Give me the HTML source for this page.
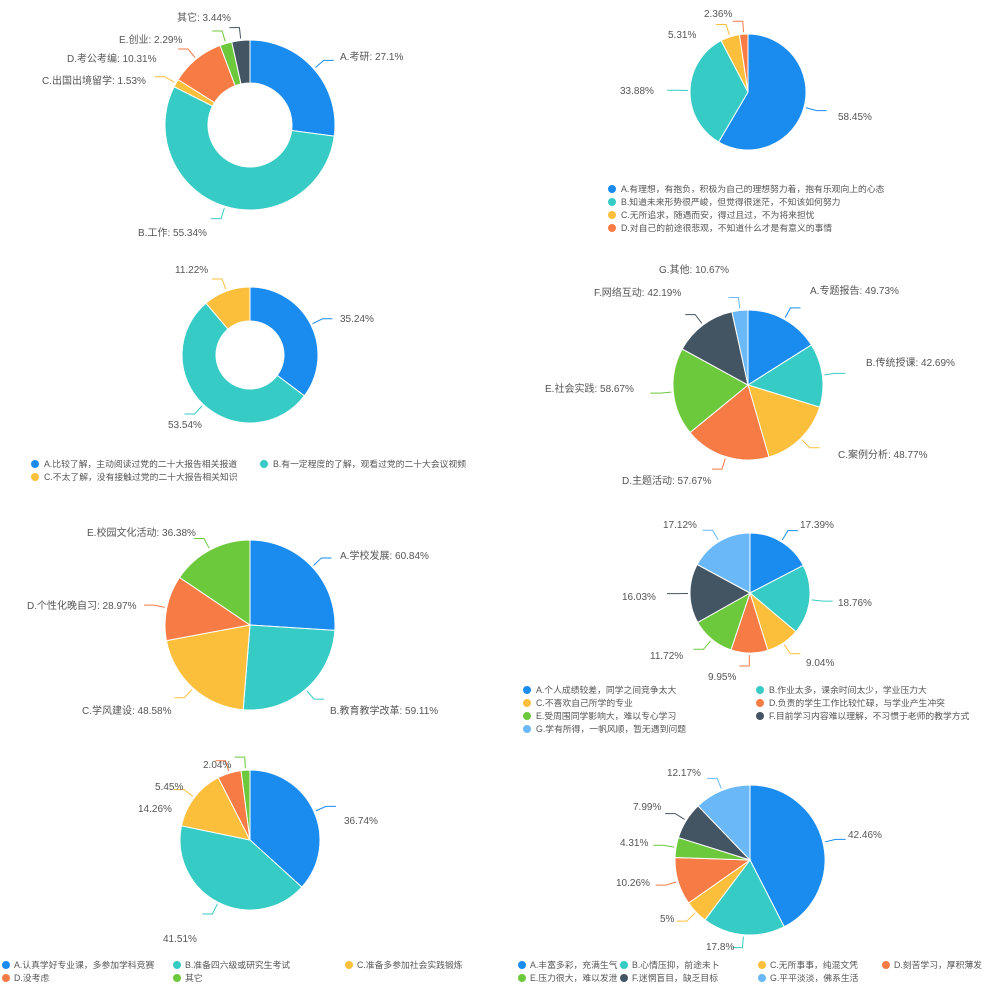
<!DOCTYPE html>
<html><head><meta charset="utf-8"><style>
body{margin:0;background:#fff;}
svg{display:block}
text{font-family:"Liberation Sans","Noto Sans CJK SC",sans-serif;font-size:10px;fill:#555;}
text.l{font-size:8.8px;}
</style></head><body>
<svg id="s" width="1000" height="1000" viewBox="0 0 1000 1000">
<g id="pies"></g>
<!-- chart1 -->
<text x="340" y="60">A.考研: 27.1%</text>
<text x="138" y="236">B.工作: 55.34%</text>
<text x="42" y="84">C.出国出境留学: 1.53%</text>
<text x="67" y="62">D.考公考编: 10.31%</text>
<text x="119" y="43">E.创业: 2.29%</text>
<text x="177" y="21">其它: 3.44%</text>
<!-- chart2 -->
<text x="704" y="17">2.36%</text>
<text x="668" y="38">5.31%</text>
<text x="620" y="94">33.88%</text>
<text x="838" y="120">58.45%</text>
<circle cx="612" cy="189" r="4" fill="#1a8cf0"/><text class="l" x="621" y="192">A.有理想，有抱负，积极为自己的理想努力着，抱有乐观向上的心态</text>
<circle cx="612" cy="202" r="4" fill="#36cbc4"/><text class="l" x="621" y="205">B.知道未来形势很严峻，但觉得很迷茫，不知该如何努力</text>
<circle cx="612" cy="215" r="4" fill="#fbbf3c"/><text class="l" x="621" y="218">C.无所追求，随遇而安，得过且过，不为将来担忧</text>
<circle cx="612" cy="228" r="4" fill="#f77b45"/><text class="l" x="621" y="231">D.对自己的前途很悲观，不知道什么才是有意义的事情</text>
<!-- chart3 -->
<text x="175" y="273">11.22%</text>
<text x="340" y="322">35.24%</text>
<text x="168" y="428">53.54%</text>
<circle cx="35" cy="464" r="4" fill="#1a8cf0"/><text class="l" x="44" y="467">A.比较了解，主动阅读过党的二十大报告相关报道</text>
<circle cx="264" cy="464" r="4" fill="#36cbc4"/><text class="l" x="273" y="467">B.有一定程度的了解，观看过党的二十大会议视频</text>
<circle cx="35" cy="477" r="4" fill="#fbbf3c"/><text class="l" x="44" y="480">C.不太了解，没有接触过党的二十大报告相关知识</text>
<!-- chart4 -->
<text x="659" y="273">G.其他: 10.67%</text>
<text x="594" y="296">F.网络互动: 42.19%</text>
<text x="810" y="294">A.专题报告: 49.73%</text>
<text x="866" y="366">B.传统授课: 42.69%</text>
<text x="545" y="392">E.社会实践: 58.67%</text>
<text x="838" y="458">C.案例分析: 48.77%</text>
<text x="622" y="484">D.主题活动: 57.67%</text>
<!-- chart5 -->
<text x="87" y="536">E.校园文化活动: 36.38%</text>
<text x="340" y="559">A.学校发展: 60.84%</text>
<text x="27" y="609">D.个性化晚自习: 28.97%</text>
<text x="82" y="714">C.学风建设: 48.58%</text>
<text x="330" y="714">B.教育教学改革: 59.11%</text>
<!-- chart6 -->
<text x="663" y="528">17.12%</text>
<text x="800" y="528">17.39%</text>
<text x="838" y="606">18.76%</text>
<text x="622" y="600">16.03%</text>
<text x="806" y="666">9.04%</text>
<text x="650" y="659">11.72%</text>
<text x="708" y="680">9.95%</text>
<circle cx="527" cy="690" r="4" fill="#1a8cf0"/><text class="l" x="536" y="693">A.个人成绩较差，同学之间竞争太大</text>
<circle cx="760" cy="690" r="4" fill="#36cbc4"/><text class="l" x="769" y="693">B.作业太多，课余时间太少，学业压力大</text>
<circle cx="527" cy="703" r="4" fill="#fbbf3c"/><text class="l" x="536" y="706">C.不喜欢自己所学的专业</text>
<circle cx="760" cy="703" r="4" fill="#f77b45"/><text class="l" x="769" y="706">D.负责的学生工作比较忙碌，与学业产生冲突</text>
<circle cx="527" cy="716" r="4" fill="#6cc93c"/><text class="l" x="536" y="719">E.受周围同学影响大，难以专心学习</text>
<circle cx="760" cy="716" r="4" fill="#435463"/><text class="l" x="769" y="719">F.目前学习内容难以理解，不习惯于老师的教学方式</text>
<circle cx="527" cy="729" r="4" fill="#6ab8f7"/><text class="l" x="536" y="732">G.学有所得，一帆风顺，暂无遇到问题</text>
<!-- chart7 -->
<text x="203" y="768">2.04%</text>
<text x="155" y="790">5.45%</text>
<text x="138" y="812">14.26%</text>
<text x="344" y="824">36.74%</text>
<text x="163" y="942">41.51%</text>
<circle cx="6" cy="965" r="4" fill="#1a8cf0"/><text class="l" x="14" y="968">A.认真学好专业课，多参加学科竞赛</text>
<circle cx="177" cy="965" r="4" fill="#36cbc4"/><text class="l" x="185" y="968">B.准备四六级或研究生考试</text>
<circle cx="349" cy="965" r="4" fill="#fbbf3c"/><text class="l" x="357" y="968">C.准备多参加社会实践锻炼</text>
<circle cx="6" cy="978" r="4" fill="#f77b45"/><text class="l" x="14" y="981">D.没考虑</text>
<circle cx="177" cy="978" r="4" fill="#6cc93c"/><text class="l" x="185" y="981">其它</text>
<!-- chart8 -->
<text x="667" y="776">12.17%</text>
<text x="633" y="810">7.99%</text>
<text x="620" y="846">4.31%</text>
<text x="616" y="886">10.26%</text>
<text x="660" y="922">5%</text>
<text x="706" y="950">17.8%</text>
<text x="848" y="838">42.46%</text>
<circle cx="522" cy="965" r="4" fill="#1a8cf0"/><text class="l" x="530" y="968">A.丰富多彩，充满生气</text>
<circle cx="624" cy="965" r="4" fill="#36cbc4"/><text class="l" x="632" y="968">B.心情压抑，前途未卜</text>
<circle cx="762" cy="965" r="4" fill="#fbbf3c"/><text class="l" x="770" y="968">C.无所事事，纯混文凭</text>
<circle cx="886" cy="965" r="4" fill="#f77b45"/><text class="l" x="894" y="968">D.刻苦学习，厚积薄发</text>
<circle cx="522" cy="978" r="4" fill="#6cc93c"/><text class="l" x="530" y="981">E.压力很大，难以发泄</text>
<circle cx="624" cy="978" r="4" fill="#435463"/><text class="l" x="632" y="981">F.迷惘盲目，缺乏目标</text>
<circle cx="762" cy="978" r="4" fill="#6ab8f7"/><text class="l" x="770" y="981">G.平平淡淡，佛系生活</text>
</svg>
<script>
var C=["#1a8cf0","#36cbc4","#fbbf3c","#f77b45","#6cc93c","#435463","#6ab8f7"];
var charts=[
[250,125,85,42,[27.1,55.34,1.53,10.31,2.29,3.44]],
[748,92,58,0,[58.45,33.88,5.31,2.36]],
[250,355,68,34,[35.24,53.54,11.22]],
[748,385,75,0,[49.73,42.69,48.77,57.67,58.67,42.19,10.67]],
[250,625,85,0,[60.84,59.11,48.58,28.97,36.38]],
[750,593,60,0,[17.39,18.76,9.04,9.95,11.72,16.03,17.12]],
[250,840,70,0,[36.74,41.51,14.26,5.45,2.04]],
[750,860,75,0,[42.46,17.8,5,10.26,4.31,7.99,12.17]]];
var g=document.getElementById('pies'),h='';
function P(cx,cy,r,a){return [cx+r*Math.sin(a),cy-r*Math.cos(a)];}
charts.forEach(function(c){
 var cx=c[0],cy=c[1],r=c[2],ri=c[3],v=c[4],t=v.reduce(function(a,b){return a+b},0),a=0;
 v.forEach(function(x,i){
  var b=a+x/t*2*Math.PI,lg=(b-a)>Math.PI?1:0,col=C[i];
  var p1=P(cx,cy,r,a),p2=P(cx,cy,r,b);
  var d;
  if(ri>0){var q1=P(cx,cy,ri,b),q2=P(cx,cy,ri,a);
   d='M'+p1+'A'+r+','+r+' 0 '+lg+' 1 '+p2+'L'+q1+'A'+ri+','+ri+' 0 '+lg+' 0 '+q2+'Z';}
  else d='M'+cx+','+cy+'L'+p1+'A'+r+','+r+' 0 '+lg+' 1 '+p2+'Z';
  h+='<path d="'+d+'" fill="'+col+'" stroke="#fff" stroke-width="1"/>';
  var m=(a+b)/2,s=P(cx,cy,r+2,m),e=P(cx,cy,r+13,m),dir=Math.sin(m)>=0?1:-1;
  h+='<polyline points="'+s+' '+e+' '+(e[0]+dir*10)+','+e[1]+'" fill="none" stroke="'+col+'" stroke-width="1"/>';
  a=b;});
});
g.innerHTML=h;
</script>
</body></html>
